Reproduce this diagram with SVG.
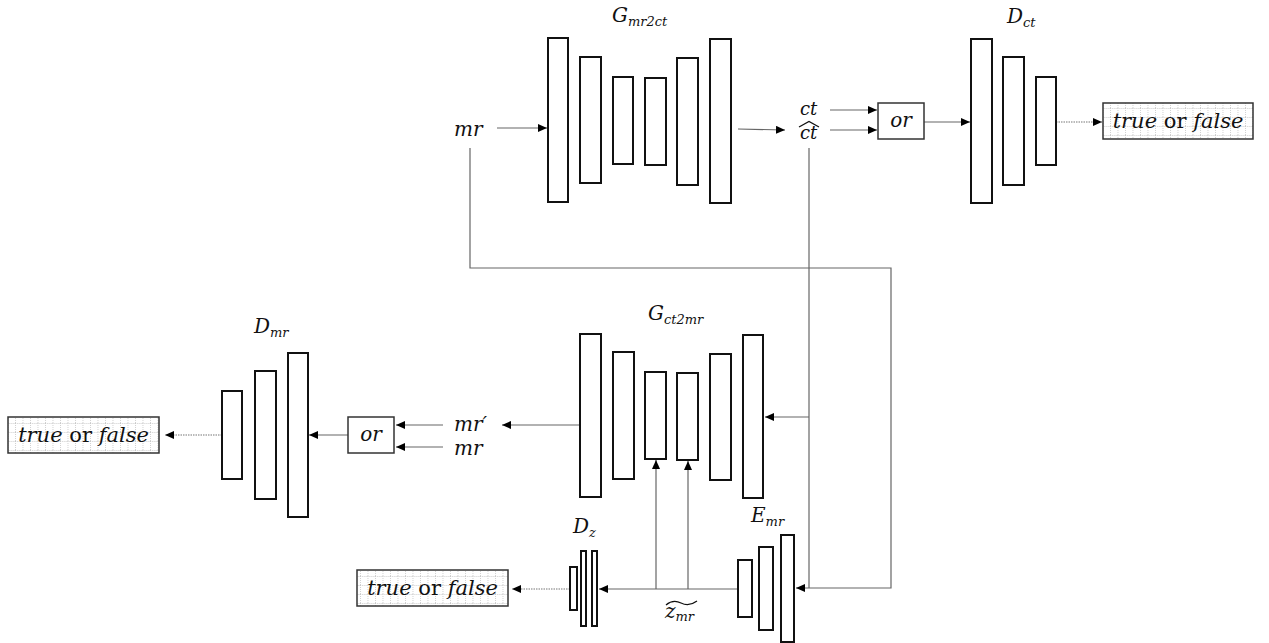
<svg xmlns="http://www.w3.org/2000/svg" width="1269" height="643" viewBox="0 0 1269 643">
<style>
.blk{fill:#fff;stroke:#111;stroke-width:2}
.box{fill:url(#grid);stroke:#333;stroke-width:1.5}
.orb{fill:#fff;stroke:#333;stroke-width:1.5}
.ln{fill:none;stroke:#666;stroke-width:1.2}
.dl{fill:none;stroke:#777;stroke-width:1.2;stroke-dasharray:1.5 1}
.m{font-family:"DejaVu Serif","Liberation Serif",serif;font-style:italic;fill:#111}
.u{font-style:normal}
.ttl{font-size:20px}
.sub{font-size:13px}
.lab{font-size:20px}
.sm{font-size:18px}
.tf{font-size:21px}
</style>
<defs>
<marker id="arr" markerUnits="userSpaceOnUse" markerWidth="10" markerHeight="8" refX="9" refY="4" orient="auto">
<path d="M0,0 L9,4 L0,8 z" fill="#000"/>
</marker>
<pattern id="grid" patternUnits="userSpaceOnUse" width="7.5" height="9" x="0" y="0">
<rect width="7.5" height="9" fill="#fff"/>
<path d="M0,0.5 H7.5 M0.5,0 V9" stroke="#c4c4c4" stroke-width="0.8" stroke-dasharray="1 1"/>
</pattern>
</defs>

<g id="connectors">
<line class="ln" x1="497" y1="128" x2="547" y2="128" marker-end="url(#arr)"/>
<line class="ln" x1="738" y1="129" x2="785" y2="130" marker-end="url(#arr)"/>
<line class="ln" x1="830" y1="110" x2="877" y2="110" marker-end="url(#arr)"/>
<line class="ln" x1="830" y1="130" x2="877" y2="130" marker-end="url(#arr)"/>
<line class="ln" x1="924" y1="122" x2="970" y2="122" marker-end="url(#arr)"/>
<line class="dl" x1="1056" y1="122" x2="1102" y2="122" marker-end="url(#arr)"/>
<polyline class="ln" points="470,148 470,268 891,268 891,588 796,588" marker-end="url(#arr)"/>
<line class="ln" x1="809" y1="148" x2="809" y2="588"/>
<line class="ln" x1="809" y1="417" x2="765" y2="417" marker-end="url(#arr)"/>
<line class="ln" x1="580" y1="425" x2="502" y2="425" marker-end="url(#arr)"/>
<line class="ln" x1="443" y1="425" x2="396" y2="425" marker-end="url(#arr)"/>
<line class="ln" x1="443" y1="447" x2="396" y2="447" marker-end="url(#arr)"/>
<line class="ln" x1="348" y1="435" x2="309" y2="435" marker-end="url(#arr)"/>
<line class="dl" x1="222" y1="435" x2="165" y2="435" marker-end="url(#arr)"/>
<line class="ln" x1="738" y1="589" x2="599" y2="589" marker-end="url(#arr)"/>
<line class="ln" x1="656" y1="589" x2="656" y2="460" marker-end="url(#arr)"/>
<line class="ln" x1="688" y1="589" x2="688" y2="461" marker-end="url(#arr)"/>
<line class="dl" x1="570" y1="589" x2="512" y2="589" marker-end="url(#arr)"/>
</g>

<g id="G_mr2ct">
<rect class="blk" x="548" y="38" width="20" height="164"/>
<rect class="blk" x="580" y="57" width="21" height="126"/>
<rect class="blk" x="613" y="77" width="20" height="87"/>
<rect class="blk" x="645" y="78" width="21" height="87"/>
<rect class="blk" x="677" y="58" width="21" height="127"/>
<rect class="blk" x="710" y="39" width="21" height="164"/>
<text class="m ttl" x="612" y="22">G<tspan class="sub" dy="4">mr2ct</tspan></text>
</g>

<g id="mr_in">
<text class="m lab" x="454" y="136">mr</text>
</g>

<g id="ct_out">
<text class="m sm" x="800" y="115">ct</text>
<text class="m sm" x="800" y="139">ct</text>
<path d="M799,127 L809,121.5 L819,127" fill="none" stroke="#111" stroke-width="1.3"/>
</g>

<g id="or_ct">
<rect class="orb" x="878" y="103" width="46" height="36"/>
<text class="m lab" x="901" y="127" text-anchor="middle">or</text>
</g>

<g id="D_ct">
<rect class="blk" x="971" y="39" width="21" height="164"/>
<rect class="blk" x="1003" y="57" width="21" height="128"/>
<rect class="blk" x="1036" y="77" width="20" height="88"/>
<text class="m ttl" x="1007" y="23">D<tspan class="sub" dy="4">ct</tspan></text>
</g>

<g id="tf_ct">
<rect class="box" x="1103" y="103" width="150" height="36"/>
<text class="m tf" x="1178" y="128" text-anchor="middle">true<tspan class="u"> or </tspan>false</text>
</g>

<g id="G_ct2mr">
<rect class="blk" x="580" y="334" width="21" height="163"/>
<rect class="blk" x="613" y="352" width="21" height="127"/>
<rect class="blk" x="645" y="372" width="21" height="87"/>
<rect class="blk" x="677" y="373" width="21" height="87"/>
<rect class="blk" x="710" y="354" width="21" height="126"/>
<rect class="blk" x="743" y="335" width="20" height="163"/>
<text class="m ttl" x="648" y="320">G<tspan class="sub" dy="4">ct2mr</tspan></text>
</g>

<g id="mr_labels">
<text class="m lab" x="454" y="431">mr′</text>
<text class="m lab" x="454" y="455">mr</text>
</g>

<g id="or_mr">
<rect class="orb" x="348" y="417" width="46" height="36"/>
<text class="m lab" x="371" y="441" text-anchor="middle">or</text>
</g>

<g id="D_mr">
<rect class="blk" x="222" y="391" width="20" height="88"/>
<rect class="blk" x="255" y="371" width="21" height="128"/>
<rect class="blk" x="288" y="353" width="20" height="164"/>
<text class="m ttl" x="254" y="333">D<tspan class="sub" dy="4">mr</tspan></text>
</g>

<g id="tf_mr">
<rect class="box" x="8" y="417" width="151" height="36"/>
<text class="m tf" x="83.5" y="442" text-anchor="middle">true<tspan class="u"> or </tspan>false</text>
</g>

<g id="E_mr">
<rect class="blk" x="738" y="560" width="14" height="57"/>
<rect class="blk" x="759" y="547" width="14" height="83"/>
<rect class="blk" x="781" y="535" width="13" height="107"/>
<text class="m ttl" x="751" y="522">E<tspan class="sub" dy="4">mr</tspan></text>
</g>

<g id="z_mr">
<text class="m lab" x="665" y="618">z<tspan class="sub" dy="3">mr</tspan></text>
<path d="M666,605 Q673,599 681,603 T697,601" fill="none" stroke="#111" stroke-width="1.3"/>
</g>

<g id="D_z">
<rect class="blk" x="570" y="567" width="7" height="43"/>
<rect class="blk" x="581" y="551" width="5" height="75"/>
<rect class="blk" x="592" y="551" width="5" height="75"/>
<text class="m ttl" x="573" y="533">D<tspan class="sub" dy="4">z</tspan></text>
</g>

<g id="tf_z">
<rect class="box" x="357" y="570" width="151" height="36"/>
<text class="m tf" x="432.5" y="595" text-anchor="middle">true<tspan class="u"> or </tspan>false</text>
</g>
</svg>
